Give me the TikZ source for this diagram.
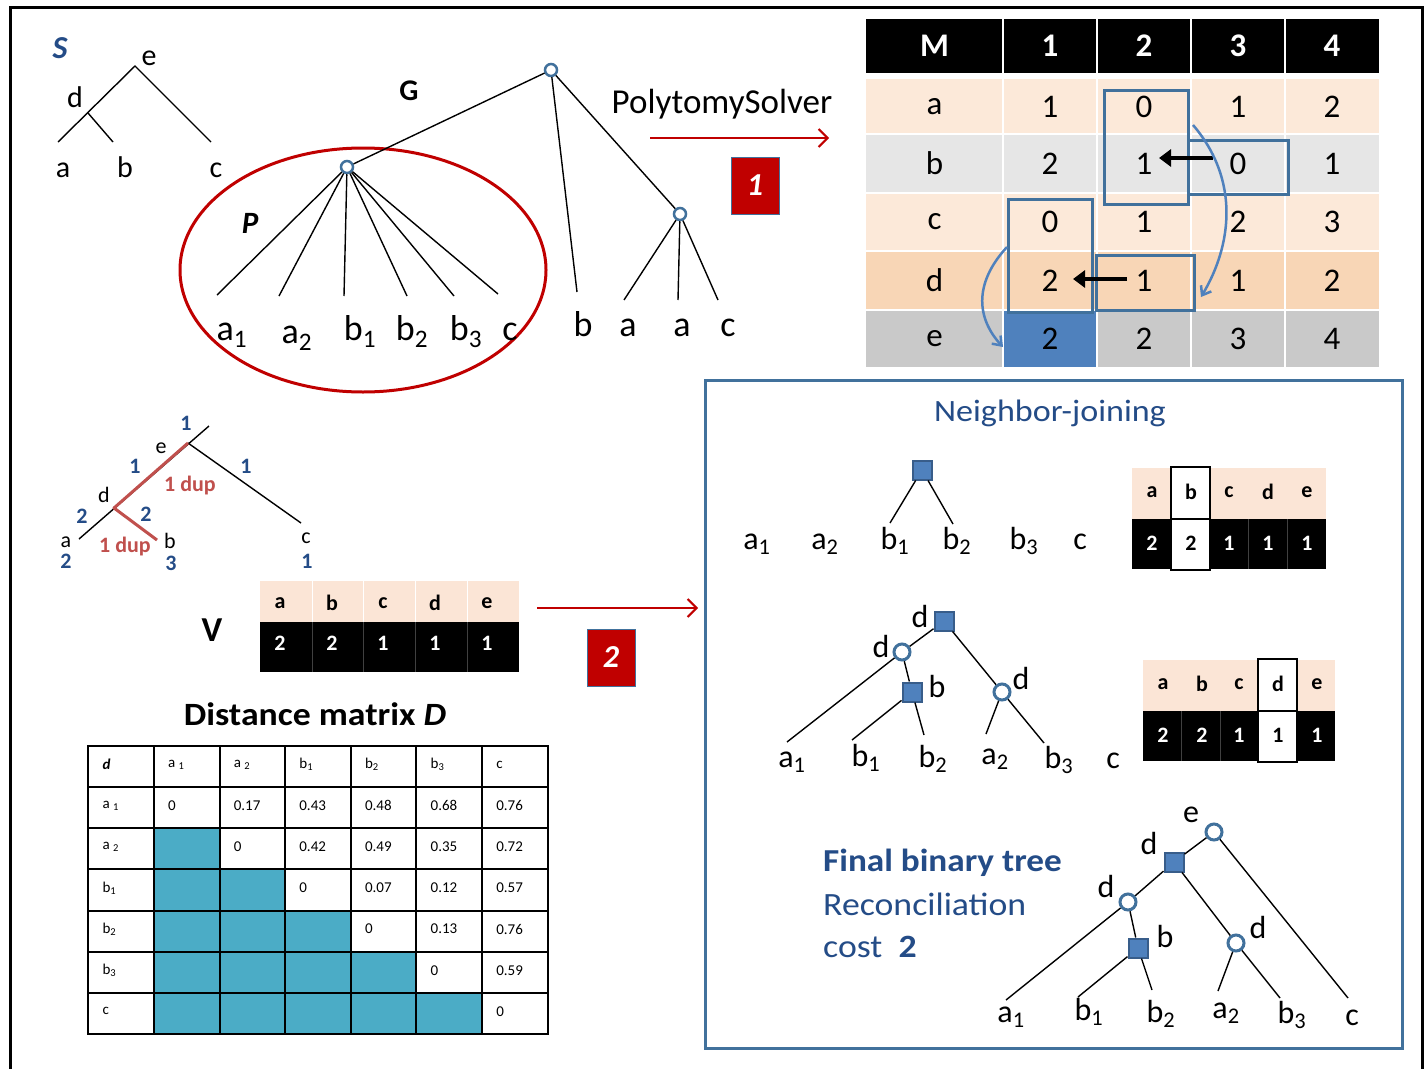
\documentclass[tikz,border=0pt]{standalone}
\usepackage{fontspec}
\setmainfont{Carlito}
\newfontfamily\wfont[FakeStretch=1.1]{Carlito}
\usetikzlibrary{arrows.meta}
\definecolor{dkblue}{RGB}{36,76,135}
\definecolor{nodeblue}{RGB}{65,113,156}
\definecolor{fillblue}{RGB}{79,129,189}
\definecolor{sqborder}{RGB}{56,93,138}
\definecolor{darkred}{RGB}{192,0,0}
\definecolor{duped}{RGB}{192,80,77}
\definecolor{peach}{RGB}{252,233,217}
\definecolor{peachdark}{RGB}{248,214,182}
\definecolor{lgray}{RGB}{230,230,230}
\definecolor{mgray}{RGB}{201,201,201}
\definecolor{dteal}{RGB}{75,172,198}
\definecolor{vpeach}{RGB}{251,229,214}
\tikzset{
  tl/.style={line width=1.4pt, black},
  gc/.style={circle, draw=nodeblue, line width=2.5pt, fill=white, minimum size=12pt, inner sep=0pt},
  gcb/.style={circle, draw=nodeblue, line width=3pt, fill=white, minimum size=16pt, inner sep=0pt},
  sq/.style={rectangle, draw=sqborder, line width=2pt, fill=fillblue, minimum size=19pt, inner sep=0pt},
  glab/.style={font=\fontsize{36}{36}\selectfont, inner sep=0pt, anchor=base},
  slab/.style={font=\fontsize{30}{30}\selectfont, inner sep=0pt, anchor=base},
  nlab/.style={font=\fontsize{32}{32}\selectfont, inner sep=0pt, anchor=base},
  mlab/.style={font=\fontsize{22}{22}\selectfont, inner sep=0pt, anchor=base},
  num/.style={font=\fontsize{22}{22}\selectfont\bfseries, text=dkblue, inner sep=0pt, anchor=base},
  dup/.style={font=\fontsize{22}{22}\selectfont\bfseries, text=duped, inner sep=0pt, anchor=base},
  mtx/.style={font=\fontsize{33}{33}\selectfont, inner sep=0pt},
  mth/.style={font=\fontsize{33}{33}\selectfont\bfseries, text=white, inner sep=0pt},
  vh/.style={font=\fontsize{22}{22}\selectfont\bfseries, inner sep=0pt},
  vb/.style={font=\fontsize{22}{22}\selectfont\bfseries, text=white, inner sep=0pt},
  dm/.style={font=\fontsize{15}{15}\selectfont, inner sep=0pt, anchor=west},
  redbox/.style={fill=darkred, draw=nodeblue, line width=1pt, minimum width=48pt, minimum height=57pt, inner sep=0pt, text=white, font=\fontsize{32}{32}\selectfont\bfseries\itshape},
  redarrow/.style={draw=darkred, line width=2pt, -{Straight Barb[length=9pt,width=18pt]}},
  bluebox/.style={draw=nodeblue, line width=3pt},
  blkarrow/.style={line width=4.5pt, -{Triangle[length=12pt,width=17pt]}},
  curvarrow/.style={draw=fillblue, line width=2.5pt, -{Straight Barb[length=8pt,width=12pt]}},
  btext/.style={text=dkblue, inner sep=0pt, anchor=base west}
}
\begin{document}
\begin{tikzpicture}[x=1pt,y=-1pt]
\useasboundingbox (0,0) rectangle (1426,1068);
\fill[white] (0,0) rectangle (1426,1068);
\draw[line width=3pt] (10,1072) -- (10,7) -- (1422,7) -- (1422,1072);

% ---------------- species tree S
\node[font=\fontsize{32}{32}\selectfont\bfseries\itshape, text=dkblue, inner sep=0pt, anchor=base] (Slab) at (60,58) {S};
\coordinate (Se) at (135,66);
\coordinate (Sd) at (88,113);
\coordinate (Sa) at (58,142);
\coordinate (Sb) at (113,142);
\coordinate (Sc) at (211,142);
\draw[tl] (Sa) -- (Se) -- (Sc);
\draw[tl] (Sd) -- (Sb);
\node[slab] (Set) at (149,65) {e};
\node[slab] (Sdt) at (75,107) {d};
\node[slab] (Sat) at (63,177) {a};
\node[slab] (Sbt) at (125,177) {b};
\node[slab] (Sct) at (216,177) {c};

% ---------------- gene tree G
\draw[darkred, line width=3pt] (363,270) ellipse [x radius=183, y radius=122];
\node[font=\fontsize{30}{30}\selectfont\bfseries, inner sep=0pt, anchor=base] (Glab) at (409,100) {G};
\node[font=\fontsize{31}{31}\selectfont\bfseries\itshape, inner sep=0pt, anchor=base] (Plab) at (250,233) {P};
\node[gc] (Groot) at (551,70) {};
\node[gc] (Pn) at (347,167) {};
\node[gc] (Gn2) at (680,214) {};
\coordinate (Pa1) at (217,295);
\coordinate (Pa2) at (279,296);
\coordinate (Pb1) at (344,296);
\coordinate (Pb2) at (407,296);
\coordinate (Pb3) at (454,296);
\coordinate (Pc) at (498,294);
\coordinate (Gb) at (577,292);
\coordinate (Ga1) at (624,300);
\coordinate (Ga2) at (678,300);
\coordinate (Gc) at (718,300);
\draw[tl] (Groot) -- (Pn);
\draw[tl] (Groot) -- (Gb);
\draw[tl] (Groot) -- (Gn2);
\foreach \t in {Pa1,Pa2,Pb1,Pb2,Pb3,Pc} \draw[tl] (Pn) -- (\t);
\foreach \t in {Ga1,Ga2,Gc} \draw[tl] (Gn2) -- (\t);
\node[glab] (La1) at (232,340) {a\textsubscript{1}};
\node[glab] (La2) at (297,343) {a\textsubscript{2}};
\node[glab] (Lb1) at (360,340) {b\textsubscript{1}};
\node[glab] (Lb2) at (412,340) {b\textsubscript{2}};
\node[glab] (Lb3) at (466,340) {b\textsubscript{3}};
\node[glab] (Lc) at (510,340) {c};
\node[glab] (Lb) at (583,336) {b};
\node[glab] (Lga1) at (628,336) {a};
\node[glab] (Lga2) at (682,336) {a};
\node[glab] (Lgc) at (728,336) {c};

% ---------------- PolytomySolver arrow
\node[font=\fontsize{35}{35}\selectfont, inner sep=0pt, anchor=base] (PS) at (722,113) {PolytomySolver};
\coordinate (r1s) at (650,138);
\coordinate (r1e) at (829,138);
\draw[redarrow] (r1s) -- (r1e);
\node[redbox] (one) at (755,185.5) {1};

% ---------------- matrix M
\fill[black] (866,19) rectangle (1379,73);
\fill[peach] (866,79) rectangle (1379,134);
\fill[lgray] (866,134) rectangle (1379,193);
\fill[peach] (866,193) rectangle (1379,251);
\fill[peachdark] (866,251) rectangle (1379,310);
\fill[mgray] (866,310) rectangle (1379,367);
\fill[fillblue] (1003,310) rectangle (1097,367);
\foreach \x in {1003,1097,1191,1285} \draw[white, line width=2pt] (\x,19) -- (\x,73) (\x,79) -- (\x,367);
\foreach \y in {134,193,251,310} \draw[white, line width=2pt] (866,\y) -- (1379,\y);
\foreach \t/\x [count=\i] in {M/934.5,1/1050,2/1144,3/1238,4/1332} \node[mth] (Mh\i) at (\x,46) {\t};
\foreach \r/\y/\va/\vb/\vc/\vd in {a/106.5/1/0/1/2, b/163.5/2/1/0/1, c/222/0/1/2/3, d/280.5/2/1/1/2, e/338.5/2/2/3/4} {
  \node[mtx] (M\r0) at (934.5,\y) {\r};
  \node[mtx] (M\r1) at (1050,\y) {\va};
  \node[mtx] (M\r2) at (1144,\y) {\vb};
  \node[mtx] (M\r3) at (1238,\y) {\vc};
  \node[mtx] (M\r4) at (1332,\y) {\vd};
}
\draw[bluebox] (1104,90) rectangle (1188,204);
\draw[bluebox] (1188,140) rectangle (1288,194);
\draw[bluebox] (1008,199) rectangle (1092,312);
\draw[bluebox] (1096,255) rectangle (1194,310);
\coordinate (k1s) at (1213,158);
\coordinate (k1e) at (1159,158);
\coordinate (k2s) at (1127,279);
\coordinate (k2e) at (1073,279);
\draw[blkarrow] (k1s) -- (k1e);
\draw[blkarrow] (k2s) -- (k2e);
\coordinate (c1s) at (1193,125);
\coordinate (c1e) at (1201,297);
\coordinate (c2s) at (1007,247);
\coordinate (c2e) at (1003,347);
\draw[curvarrow] (c1s) .. controls (1240,180) and (1232,245) .. (c1e);
\draw[curvarrow] (c2s) .. controls (972,285) and (978,320) .. (c2e);

% ---------------- bottom-left tree
\coordinate (Ttop) at (209,426);
\coordinate (Te) at (188,443);
\coordinate (Td) at (114,508);
\coordinate (Ta) at (79,539);
\coordinate (Tb) at (157,540);
\coordinate (Tc) at (301,523);
\draw[tl] (Ta) -- (Ttop);
\draw[tl] (Te) -- (Tc);
\draw[duped, line width=3pt, line join=round] (Te) -- (Td) -- (Tb);
\node[num] (n1) at (186,430) {1};
\node[mlab] (te) at (161,453) {e};
\node[num] (n2) at (135,473) {1};
\node[dup] (dup1) at (190,491) {1 dup};
\node[num] (n3) at (246,473) {1};
\node[mlab] (td) at (104,502) {d};
\node[num] (n4) at (82,523) {2};
\node[num] (n5) at (146,521) {2};
\node[mlab] (ta) at (66,547) {a};
\node[dup] (dup2) at (125,552) {1 dup};
\node[mlab] (tb) at (170,548) {b};
\node[num] (n6) at (66,568) {2};
\node[num] (n7) at (171,570) {3};
\node[mlab] (tc) at (306,543) {c};
\node[num] (n8) at (307,568) {1};

% ---------------- V table
\node[font=\fontsize{35}{35}\selectfont\bfseries, inner sep=0pt, anchor=base] (Vlab) at (212,641) {V};
\fill[vpeach] (260,581) rectangle (519,622);
\fill[black] (260,622) rectangle (519,672);
\foreach \x in {312,363,415,467} {
  \draw[white, line width=0.8pt] (\x,581) -- (\x,622);
  \draw[black!75!white, line width=0.8pt] (\x,622) -- (\x,672);
}
\foreach \t/\v/\x [count=\i] in {a/2/280,b/2/332,c/1/383,d/1/435,e/1/487} {
  \node[vh] (Vh\i) at (\x,603) {\t};
  \node[vb] (Vb\i) at (\x,643) {\v};
}
\coordinate (r2s) at (537,608);
\coordinate (r2e) at (698,608);
\draw[redarrow] (r2s) -- (r2e);
\node[redbox] (two) at (611,657.5) {2};

% ---------------- Distance matrix
\node[font=\wfont\fontsize{32.5}{33}\selectfont\bfseries, inner sep=0pt, anchor=base] (Dtitle) at (315,725) {Distance matrix \textit{D}};
\foreach \k in {1,...,5} \foreach \j in {1,...,\k}
  \fill[dteal] ({88.3+65.63*\j},{787.14+41.14*\k}) rectangle ++(65.63,41.14);
\foreach \j in {0,...,7} \draw[line width=2pt] ({88.3+65.63*\j},745) -- ({88.3+65.63*\j},1035);
\foreach \k in {0,...,7} \draw[line width=2pt] (87.3,{746+41.14*\k}) -- (548.7,{746+41.14*\k});
\foreach \r/\c/\t in {0/0/{\textbf{\textit{d}}}, 0/1/{a \textsubscript{1}}, 0/2/{a \textsubscript{2}}, 0/3/{b\textsubscript{1}}, 0/4/{b\textsubscript{2}}, 0/5/{b\textsubscript{3}}, 0/6/c,
  1/0/{a \textsubscript{1}}, 1/1/0, 1/2/0.17, 1/3/0.43, 1/4/0.48, 1/5/0.68, 1/6/0.76,
  2/0/{a \textsubscript{2}}, 2/2/0, 2/3/0.42, 2/4/0.49, 2/5/0.35, 2/6/0.72,
  3/0/{b\textsubscript{1}}, 3/3/0, 3/4/0.07, 3/5/0.12, 3/6/0.57,
  4/0/{b\textsubscript{2}}, 4/4/0, 4/5/0.13, 4/6/0.76,
  5/0/{b\textsubscript{3}}, 5/5/0, 5/6/0.59,
  6/0/c, 6/6/0}
  \node[dm] (D\r\c) at ({88.3+65.63*\c+14},{764.5+41.14*\r}) {\t};

% ---------------- Neighbor-joining panel
\draw[bluebox] (705,380) rectangle (1402,1048);
\node[font=\wfont\fontsize{31}{31}\selectfont, text=dkblue, inner sep=0pt, anchor=base] (NJ) at (1050,421) {Neighbor-joining};

% stage 1
\node[sq] (s1) at (922,470) {};
\coordinate (s1b1) at (890,523);
\coordinate (s1b2) at (953,524);
\draw[tl] (s1) -- (s1b1);
\draw[tl] (s1) -- (s1b2);
\node[nlab] (A1) at (757,549) {a\textsubscript{1}};
\node[nlab] (A2) at (825,549) {a\textsubscript{2}};
\node[nlab] (A3) at (895,549) {b\textsubscript{1}};
\node[nlab] (A4) at (957,549) {b\textsubscript{2}};
\node[nlab] (A5) at (1024,549) {b\textsubscript{3}};
\node[nlab] (A6) at (1080,549) {c};
\fill[vpeach] (1132,468) rectangle (1326,519);
\fill[black] (1132,519) rectangle (1326,569);
\foreach \x in {1248,1287} \draw[black!75!white, line width=0.8pt] (\x,519) -- (\x,569);
\draw[black, line width=2pt, fill=white] (1171,467) rectangle (1210,570);
\draw[black, line width=2pt] (1171,519) -- (1210,519);
\foreach \t/\v/\x/\c [count=\i] in {a/2/1152/white,b/2/1191/black,c/1/1229/white,d/1/1268/white,e/1/1307/white} {
  \node[vh] (T1h\i) at (\x,492) {\t};
  \node[vh, text=\c] (T1b\i) at (\x,543) {\v};
}

% stage 2
\node[sq] (u1) at (944,621) {};
\node[gcb] (u2) at (902,652) {};
\node[sq] (u3) at (912,692) {};
\node[gcb] (u4) at (1002,692) {};
\coordinate (ua1) at (787,742);
\coordinate (ub1) at (852,740);
\coordinate (ub2) at (924,735);
\coordinate (ua2) at (986,734);
\coordinate (ub3) at (1044,743);
\draw[tl] (u1) -- (u2);
\draw[tl] (u1) -- (u4);
\draw[tl] (u2) -- (ua1);
\draw[tl] (u2) -- (u3);
\draw[tl] (u3) -- (ub1);
\draw[tl] (u3) -- (ub2);
\draw[tl] (u4) -- (ua2);
\draw[tl] (u4) -- (ub3);
\node[nlab] (ud1) at (920,627) {d};
\node[nlab] (ud2) at (881,657) {d};
\node[nlab] (ubl) at (937,697) {b};
\node[nlab] (ud3) at (1021,689) {d};
\node[nlab] (B1) at (792,767) {a\textsubscript{1}};
\node[nlab] (B2) at (866,766) {b\textsubscript{1}};
\node[nlab] (B3) at (933,767) {b\textsubscript{2}};
\node[nlab] (B4) at (995,764) {a\textsubscript{2}};
\node[nlab] (B5) at (1059,768) {b\textsubscript{3}};
\node[nlab] (B6) at (1113,768) {c};
\fill[vpeach] (1143,660) rectangle (1335,711);
\fill[black] (1143,711) rectangle (1335,761);
\foreach \x in {1181,1220} \draw[black!75!white, line width=0.8pt] (\x,711) -- (\x,761);
\draw[black, line width=2pt, fill=white] (1258,659) rectangle (1297,762);
\draw[black, line width=2pt] (1258,711) -- (1297,711);
\foreach \t/\v/\x/\c [count=\i] in {a/2/1163/white,b/2/1202/white,c/1/1239/white,d/1/1278/black,e/1/1317/white} {
  \node[vh] (T2h\i) at (\x,684) {\t};
  \node[vh, text=\c] (T2b\i) at (\x,735) {\v};
}

% final tree
\node[btext, font=\wfont\fontsize{32}{32}\selectfont\bfseries] (F1) at (823,871) {Final binary tree};
\node[btext, font=\wfont\fontsize{32.5}{32}\selectfont] (F2) at (823,915) {Reconciliation};
\node[btext, font=\wfont\fontsize{32.5}{32}\selectfont] (F3) at (823,957) {cost\ \ \textbf{2}};
\node[gcb] (Fe) at (1214,832) {};
\node[sq] (Fd) at (1174,862) {};
\node[gcb] (Fdl) at (1128,902) {};
\node[sq] (Fb) at (1138,948) {};
\node[gcb] (Fdr) at (1236,943) {};
\coordinate (Fc) at (1348,998);
\coordinate (Fa1) at (1006,1000);
\coordinate (Fb1) at (1078,997);
\coordinate (Fb2) at (1152,990);
\coordinate (Fa2) at (1218,991);
\coordinate (Fb3) at (1280,998);
\draw[tl] (Fe) -- (Fc);
\draw[tl] (Fe) -- (Fd);
\draw[tl] (Fd) -- (Fdl);
\draw[tl] (Fd) -- (Fdr);
\draw[tl] (Fdl) -- (Fa1);
\draw[tl] (Fdl) -- (Fb);
\draw[tl] (Fb) -- (Fb1);
\draw[tl] (Fb) -- (Fb2);
\draw[tl] (Fdr) -- (Fa2);
\draw[tl] (Fdr) -- (Fb3);
\node[nlab] (fe) at (1191,822) {e};
\node[nlab] (fd1) at (1149,854) {d};
\node[nlab] (fd2) at (1106,897) {d};
\node[nlab] (fbl) at (1165,947) {b};
\node[nlab] (fd3) at (1258,938) {d};
\node[nlab] (C1) at (1011,1022) {a\textsubscript{1}};
\node[nlab] (C2) at (1089,1020) {b\textsubscript{1}};
\node[nlab] (C3) at (1161,1022) {b\textsubscript{2}};
\node[nlab] (C4) at (1226,1018) {a\textsubscript{2}};
\node[nlab] (C5) at (1292,1023) {b\textsubscript{3}};
\node[nlab] (C6) at (1352,1025) {c};
\end{tikzpicture}
\end{document}
